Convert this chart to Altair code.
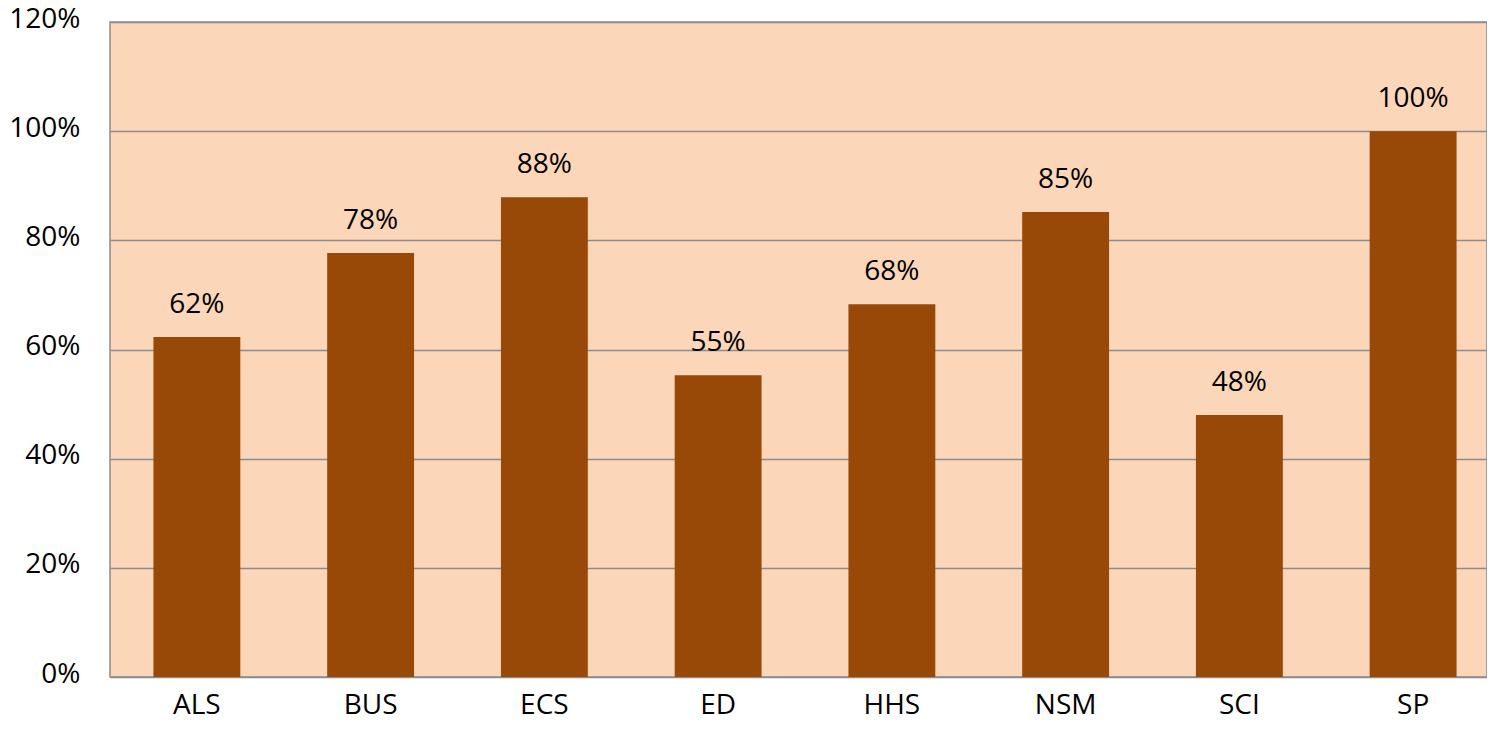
import altair as alt
import pandas as pd

categories = ["ALS", "BUS", "ECS", "ED", "HHS", "NSM", "SCI", "SP"]
values = [0.623, 0.777, 0.879, 0.553, 0.683, 0.852, 0.480, 1.00]
labels = ["62%", "78%", "88%", "55%", "68%", "85%", "48%", "100%"]

df = pd.DataFrame({"cat": categories, "val": values, "lab": labels})

font = "Open Sans"
fs = 28

base = alt.Chart(df).encode(
    x=alt.X("cat:N", sort=categories, title=None,
            scale=alt.Scale(paddingInner=0.5, paddingOuter=0.25, range=[0, 1390]),
            axis=alt.Axis(labelAngle=0, ticks=False, domain=False, labelFont=font,
                          labelFontSize=fs, labelColor="#000000", labelPadding=36,
                          labelBaseline="alphabetic")),
)

bars = base.mark_bar(color="#984807").encode(
    y=alt.Y("val:Q", title=None,
            scale=alt.Scale(domain=[0, 1.2], nice=False),
            axis=alt.Axis(format=".0%", values=[0, 0.2, 0.4, 0.6, 0.8, 1.0, 1.2],
                          ticks=False, domain=False, grid=True, gridColor="#8c8c8c",
                          gridWidth=1.3, labelFont=font, labelFontSize=fs,
                          labelColor="#000000", labelPadding=30, labelOffset=-3)),
)

text = base.mark_text(dy=-24, font=font, fontSize=fs, color="#000000", baseline="alphabetic").encode(
    y="val:Q",
    text="lab:N",
)

chart = (bars + text).properties(
    width=1377, height=655,
    background="white",
    autosize=alt.AutoSizeParams(type="none"),
    padding={"left": 102, "top": 14, "right": 0, "bottom": 44},
).configure_view(
    fill="#FCD6B8", stroke="#8c8c8c", strokeWidth=1.5
)

chart.save("out.html", embed_options={"renderer": "svg", "actions": False})
